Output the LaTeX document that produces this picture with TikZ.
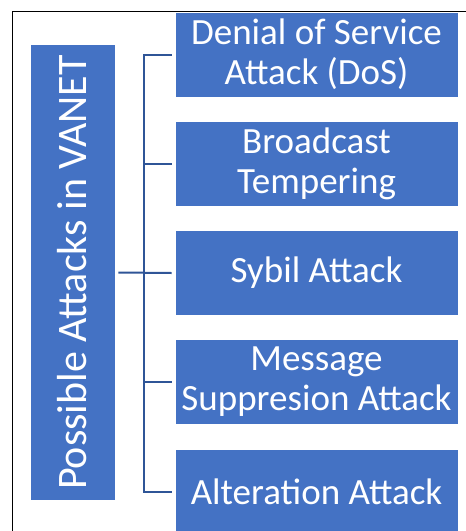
\documentclass[tikz,border=0pt]{standalone}
\usepackage{fontspec}
\setmainfont{Carlito}
\definecolor{boxblue}{HTML}{4472C4}
\definecolor{lineblue}{HTML}{2F5597}
\begin{document}
\begin{tikzpicture}[x=1pt,y=-1pt,
  box/.style={fill=boxblue, draw=white, line width=0.6pt, text=white, align=center, inner sep=0pt,
    minimum width=283pt, minimum height=85pt, font=\fontsize{37}{40}\selectfont},
  link/.style={draw=lineblue, line width=2pt}]
\useasboundingbox (0,0) rectangle (466,531);
\clip (0,0) rectangle (466,531);
\draw[line width=1.5pt] (12.5,531) -- (12.5,11.5) -- (466,11.5);
\node[box] (b1) at (316.5,54.5) {Denial of Service\\Attack (DoS)};
\node[box] (b2) at (316.5,163.5) {Broadcast\\Tempering};
\node[box] (b3) at (316.5,273) {Sybil Attack};
\node[box] (b4) at (316.5,382) {Message\\Suppresion Attack};
\node[box] (b5) at (316.5,491.5) {Alteration Attack};
\node[box, rotate=90, minimum width=456pt, minimum height=85pt, font=\fontsize{42}{48}\selectfont] (L) at (72.5,272.5) {Possible Attacks in VANET};
\draw[link] ([xshift=-3pt]b1.west) -| ([xshift=-30.5pt]b5.west) -- ([xshift=-3pt]b5.west);
\draw[link] ([xshift=-3pt]b2.west) -- ([xshift=-30.5pt]b2.west);
\draw[link] ([xshift=-3pt]b4.west) -- ([xshift=-30.5pt]b4.west);
\draw[link] ([xshift=3pt]L.south) -- ([xshift=-3pt]b3.west);
\end{tikzpicture}
\end{document}
